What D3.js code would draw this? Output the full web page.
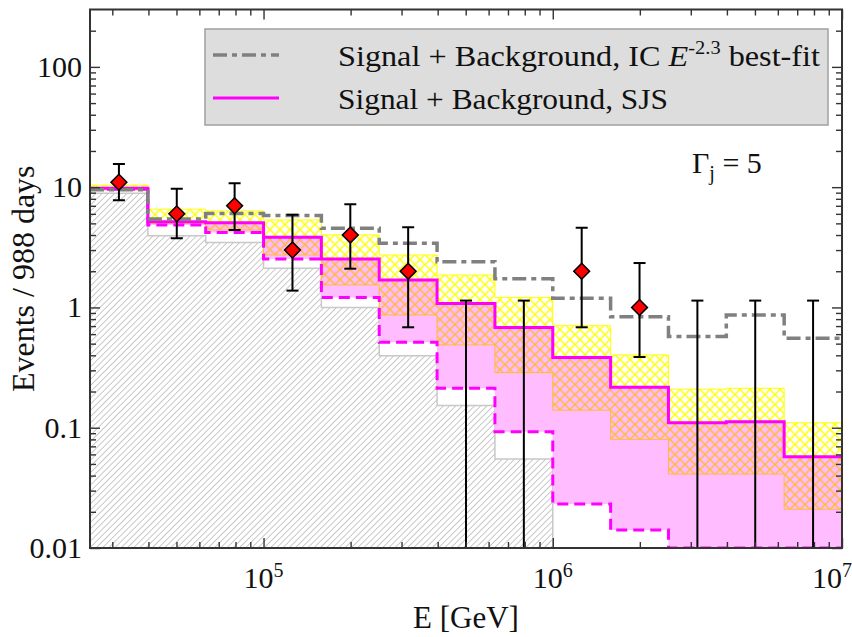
<!DOCTYPE html>
<html>
<head>
<meta charset="utf-8">
<script src="https://cdn.jsdelivr.net/npm/d3@7"></script>
<style>
  body { margin: 0; background: #fff; }
  svg text { font-family: "Liberation Serif", "Times New Roman", serif; fill: #111; }
</style>
</head>
<body>
<div id="wrapper"></div>
<script>
// bin edges as log10(E / GeV)
const binEdgeExps = [4.4, 4.6, 4.8, 5.0, 5.2, 5.4, 5.6, 5.8, 6.0, 6.2, 6.4, 6.6, 6.8, 7.0];
// data points (bin centres, log10 E)
const dataExps = [4.5, 4.7, 4.9, 5.1, 5.3, 5.5, 5.7, 5.9, 6.1, 6.3, 6.5, 6.7, 6.9];
const dataCounts = [11, 6, 7, 3, 4, 2, 0, 0, 2, 1, 0, 0, 0];
const dataErrHigh = [15.6, 9.7, 10.8, 5.9, 7.2, 4.65, 1.14, 1.14, 4.6, 2.34, 1.14, 1.14, 1.14];
const dataErrLow = [7.8, 3.76, 4.4, 1.38, 2.1, 0.684, 0, 0, 0.684, 0.387, 0, 0, 0];

// histograms, events per bin
const background = [8.9, 3.95, 3.46, 2.12, 1.0, 0.397, 0.153, 0.055, 0, 0, 0, 0, 0];
const sjsLow = [9.6, 4.85, 4.19, 2.53, 1.21, 0.514, 0.213, 0.0927, 0.0232, 0.0141, 0, 0, 0];
const sjs = [9.8, 5.17, 5.07, 3.83, 2.53, 1.69, 1.08, 0.68, 0.383, 0.217, 0.110, 0.112, 0.0574];
const sjsBandLow = [9.5, 5.0, 4.41, 2.73, 1.54, 0.866, 0.488, 0.287, 0.14, 0.080, 0.0412, 0.0412, 0.021];
const sjsBandHigh = [10.4, 6.56, 6.35, 5.34, 4.01, 2.73, 1.86, 1.21, 0.706, 0.403, 0.209, 0.213, 0.110];
const icBestFit = [9.5, 5.44, 6.03, 5.8, 4.56, 3.42, 2.4, 1.73, 1.19, 0.838, 0.572, 0.866, 0.555];

const xTickExps = [5, 6, 7];
const yTickValues = [0.01, 0.1, 1, 10, 100];

function drawChart() {
  let dimensions = {
    width: 852,
    height: 637,
    margin: { top: 9.5, right: 10, bottom: 89, left: 90 },
  };
  dimensions.boundedWidth = dimensions.width - dimensions.margin.left - dimensions.margin.right;
  dimensions.boundedHeight = dimensions.height - dimensions.margin.top - dimensions.margin.bottom;
  const W = dimensions.boundedWidth, H = dimensions.boundedHeight;

  const edges = binEdgeExps.map((e) => Math.pow(10, e));

  const xScale = d3.scaleLog().domain([edges[0], edges[edges.length - 1]]).range([0, W]);
  const yScale = d3.scaleLog().domain([0.01, 300]).range([H, 0]).clamp(true);
  const yPos = (v) => yScale(Math.max(v, 0.005));

  const wrapper = d3.select("#wrapper").append("svg")
    .attr("width", dimensions.width)
    .attr("height", dimensions.height);

  const defs = wrapper.append("defs");
  defs.append("clipPath").attr("id", "plot-clip")
    .append("rect").attr("width", W).attr("height", H);

  // grey diagonal hatch for the background
  defs.append("pattern").attr("id", "hatch")
    .attr("patternUnits", "userSpaceOnUse")
    .attr("width", 4.4).attr("height", 4.4)
    .attr("patternTransform", "rotate(45)")
    .append("line")
    .attr("x1", 2.2).attr("y1", 0).attr("x2", 2.2).attr("y2", 4.4)
    .attr("stroke", "#c2c2c2").attr("stroke-width", 0.9);

  const crossHatch = (id, color) => {
    const p = defs.append("pattern").attr("id", id)
      .attr("patternUnits", "userSpaceOnUse")
      .attr("width", 10).attr("height", 10);
    p.append("path")
      .attr("d", "M0,0L10,10M10,0L0,10M-1,9L1,11M9,-1L11,1")
      .attr("stroke", color).attr("stroke-width", 1.4).attr("fill", "none");
  };
  crossHatch("cross-yellow", "#ffff00");
  crossHatch("cross-orange", "#ffbb33");

  const bounds = wrapper.append("g")
    .attr("transform", `translate(${dimensions.margin.left},${dimensions.margin.top})`);

  const plot = bounds.append("g").attr("clip-path", "url(#plot-clip)");

  // step helpers
  const stepPoints = (vals) =>
    vals.map((v, i) => ({ x: edges[i], y: v })).concat([{ x: edges[edges.length - 1], y: vals[vals.length - 1] }]);
  const bandPoints = (lo, hi) =>
    lo.map((v, i) => ({ x: edges[i], lo: v, hi: hi[i] }))
      .concat([{ x: edges[edges.length - 1], lo: lo[lo.length - 1], hi: hi[hi.length - 1] }]);

  const stepLine = d3.line().x((d) => xScale(d.x)).y((d) => yPos(d.y)).curve(d3.curveStepAfter);
  const stepArea = d3.area().x((d) => xScale(d.x)).y0((d) => yPos(d.lo)).y1((d) => yPos(d.hi)).curve(d3.curveStepAfter);

  // background
  const zeros = background.map(() => 0);
  plot.append("path")
    .attr("d", stepArea(bandPoints(zeros, background)))
    .attr("fill", "url(#hatch)");
  plot.append("path")
    .attr("d", stepLine(stepPoints(background)))
    .attr("fill", "none").attr("stroke", "#c8c8c8").attr("stroke-width", 1.5);

  // SJS signal + background
  plot.append("path")
    .attr("d", stepArea(bandPoints(sjsLow, sjs)))
    .attr("fill", "#ffbcff");
  plot.append("path")
    .attr("d", stepArea(bandPoints(sjsBandLow, sjs)))
    .attr("fill", "url(#cross-orange)")
    .attr("stroke", "#ffbb33").attr("stroke-width", 1);
  plot.append("path")
    .attr("d", stepArea(bandPoints(sjs, sjsBandHigh)))
    .attr("fill", "url(#cross-yellow)")
    .attr("stroke", "#ffff00").attr("stroke-width", 1);

  plot.append("path")
    .attr("d", stepLine(stepPoints(sjsLow)))
    .attr("fill", "none").attr("stroke", "#ff00ff")
    .attr("stroke-width", 3).attr("stroke-dasharray", "11,6");
  plot.append("path")
    .attr("d", stepLine(stepPoints(sjs)))
    .attr("fill", "none").attr("stroke", "#ff00ff").attr("stroke-width", 3);

  // IC E^-2.3 best fit
  plot.append("path")
    .attr("d", stepLine(stepPoints(icBestFit)))
    .attr("fill", "none").attr("stroke", "#808080")
    .attr("stroke-width", 3.5).attr("stroke-dasharray", "14,5,5,5");

  // axes frame + inward ticks
  const minorX = [];
  [4, 5, 6].forEach((p) => d3.range(2, 10).forEach((m) => minorX.push(m * Math.pow(10, p))));
  const minorXIn = minorX.filter((v) => v > edges[0] && v < edges[edges.length - 1]);
  const minorY = [];
  [-2, -1, 0, 1, 2].forEach((p) => d3.range(2, 10).forEach((m) => minorY.push(m * Math.pow(10, p))));
  const minorYIn = minorY.filter((v) => v < 300);
  const xMajor = xTickExps.map((e) => Math.pow(10, e));

  const axisColor = "#333";
  const addAxis = (gen, tr) => {
    const g = bounds.append("g").attr("transform", tr).call(gen);
    g.select(".domain").remove();
    g.selectAll("line").attr("stroke", axisColor).attr("stroke-width", 1.4);
    g.selectAll("text").remove();
  };
  addAxis(d3.axisBottom(xScale).tickValues(xMajor).tickSize(-10), `translate(0,${H})`);
  addAxis(d3.axisBottom(xScale).tickValues(minorXIn).tickSize(-6), `translate(0,${H})`);
  addAxis(d3.axisTop(xScale).tickValues(xMajor).tickSize(-10), "translate(0,0)");
  addAxis(d3.axisTop(xScale).tickValues(minorXIn).tickSize(-6), "translate(0,0)");
  addAxis(d3.axisLeft(yScale).tickValues(yTickValues).tickSize(-10), "translate(0,0)");
  addAxis(d3.axisLeft(yScale).tickValues(minorYIn).tickSize(-6), "translate(0,0)");
  addAxis(d3.axisRight(yScale).tickValues(yTickValues).tickSize(-10), `translate(${W},0)`);
  addAxis(d3.axisRight(yScale).tickValues(minorYIn).tickSize(-6), `translate(${W},0)`);

  bounds.append("rect")
    .attr("width", W).attr("height", H)
    .attr("fill", "none").attr("stroke", axisColor).attr("stroke-width", 2);

  // tick labels
  bounds.selectAll(".ylabel").data(yTickValues).join("text")
    .attr("class", "ylabel")
    .attr("x", -8)
    .attr("y", (d) => yScale(d) + 10)
    .attr("text-anchor", "end")
    .style("font-size", "30px")
    .text((d) => d);

  // the last label sits against the right edge, as in the original figure
  const xLab = bounds.selectAll(".xlabel").data(xTickExps).join("text")
    .attr("class", "xlabel")
    .attr("x", (d, i) => xScale(Math.pow(10, d)) - (i === xTickExps.length - 1 ? 10 : 0))
    .attr("y", H + 40)
    .attr("text-anchor", "middle")
    .style("font-size", "30px");
  xLab.append("tspan").text("10");
  xLab.append("tspan").attr("dy", -11).style("font-size", "20px").text((d) => d);

  // data points with error bars
  const points = dataExps.map((e, i) => ({
    x: Math.pow(10, e), n: dataCounts[i], hi: dataErrHigh[i], lo: dataErrLow[i],
  }));
  const errG = plot.append("g");
  errG.selectAll(".bar").data(points).join("line")
    .attr("x1", (d) => xScale(d.x)).attr("x2", (d) => xScale(d.x))
    .attr("y1", (d) => yPos(d.lo)).attr("y2", (d) => yPos(d.hi))
    .attr("stroke", "#000").attr("stroke-width", 2);
  errG.selectAll(".captop").data(points).join("line")
    .attr("x1", (d) => xScale(d.x) - 6).attr("x2", (d) => xScale(d.x) + 6)
    .attr("y1", (d) => yPos(d.hi)).attr("y2", (d) => yPos(d.hi))
    .attr("stroke", "#000").attr("stroke-width", 2);
  errG.selectAll(".capbot").data(points.filter((d) => d.lo > 0)).join("line")
    .attr("x1", (d) => xScale(d.x) - 6).attr("x2", (d) => xScale(d.x) + 6)
    .attr("y1", (d) => yPos(d.lo)).attr("y2", (d) => yPos(d.lo))
    .attr("stroke", "#000").attr("stroke-width", 2);
  errG.selectAll(".pt").data(points.filter((d) => d.n > 0)).join("path")
    .attr("d", d3.symbol().type(d3.symbolSquare).size(125))
    .attr("transform", (d) => `translate(${xScale(d.x)},${yScale(d.n)}) rotate(45)`)
    .attr("fill", "#ff0000").attr("stroke", "#000").attr("stroke-width", 1.5);

  // legend
  const legend = wrapper.append("g");
  legend.append("rect")
    .attr("x", 205).attr("y", 29).attr("width", 623).attr("height", 96)
    .attr("fill", "#dddddd").attr("stroke", "#a0a0a0").attr("stroke-width", 1.5);
  legend.append("line")
    .attr("x1", 213).attr("x2", 279).attr("y1", 55).attr("y2", 55)
    .attr("stroke", "#808080").attr("stroke-width", 3.5).attr("stroke-dasharray", "14,5,5,5");
  legend.append("line")
    .attr("x1", 213).attr("x2", 279).attr("y1", 98).attr("y2", 98)
    .attr("stroke", "#ff00ff").attr("stroke-width", 3);
  const l1 = legend.append("text").attr("x", 338).attr("y", 66).style("font-size", "30px")
    .attr("textLength", 482).attr("lengthAdjust", "spacingAndGlyphs");
  l1.append("tspan").text("Signal + Background, IC ");
  l1.append("tspan").style("font-style", "italic").text("E");
  l1.append("tspan").attr("dy", -12).style("font-size", "19px").text("-2.3");
  l1.append("tspan").attr("dy", 12).text(" best-fit");
  legend.append("text").attr("x", 338).attr("y", 109).style("font-size", "30px")
    .attr("textLength", 330).attr("lengthAdjust", "spacingAndGlyphs")
    .text("Signal + Background, SJS");

  // Gamma_j annotation
  const gam = wrapper.append("text").attr("x", 692).attr("y", 173).style("font-size", "30px");
  gam.append("tspan").text("Γ");
  gam.append("tspan").attr("dy", 7).style("font-size", "20px").text("j");
  gam.append("tspan").attr("dy", -7).text(" =  5");

  // axis titles
  wrapper.append("text")
    .attr("transform", `translate(34,${dimensions.margin.top + H / 2}) rotate(-90)`)
    .attr("text-anchor", "middle")
    .style("font-size", "32px")
    .text("Events / 988 days");
  wrapper.append("text")
    .attr("x", dimensions.margin.left + W / 2)
    .attr("y", 628)
    .attr("text-anchor", "middle")
    .style("font-size", "31px")
    .text("E [GeV]");
}

drawChart();
</script>
</body>
</html>
